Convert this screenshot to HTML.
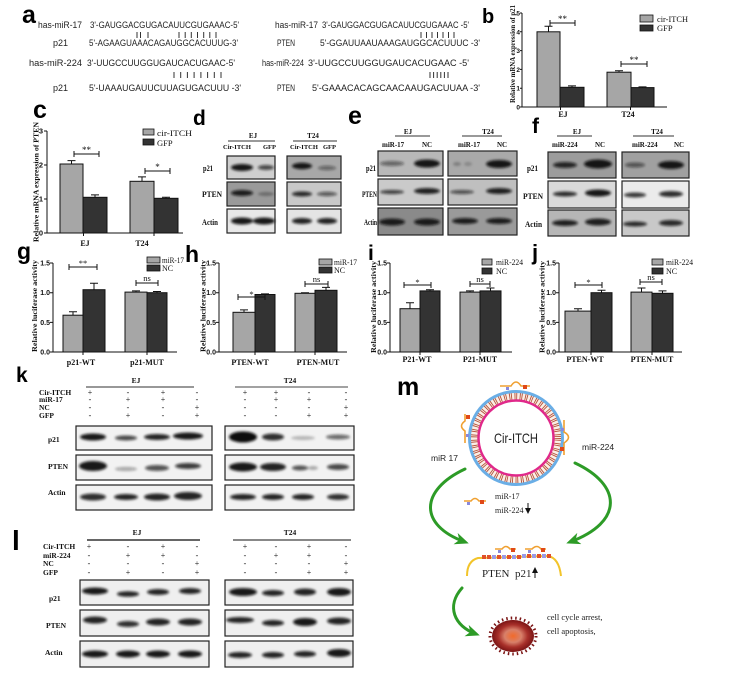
<!DOCTYPE html>
<html><head><meta charset="utf-8"><style>
html,body{margin:0;padding:0;background:#fff}
svg{display:block}
.s{font-family:"Liberation Sans",sans-serif}
.sf{font-family:"Liberation Serif",serif}
.b{font-weight:bold}
.L{font-family:"Liberation Sans",sans-serif;font-weight:bold}
</style></head><body>
<svg width="755" height="675" viewBox="0 0 755 675" xmlns="http://www.w3.org/2000/svg">
<defs>
<filter id="bl" x="-50%" y="-150%" width="200%" height="400%"><feGaussianBlur stdDeviation="1.2"/></filter>
<radialGradient id="cg"><stop offset="0" stop-color="#f26a2a"/><stop offset="0.4" stop-color="#d8806a"/><stop offset="0.7" stop-color="#a8302a"/><stop offset="1" stop-color="#7a1414"/></radialGradient>
<marker id="ga" markerUnits="userSpaceOnUse" markerWidth="16" markerHeight="14" refX="10" refY="6" orient="auto"><path d="M0,0 L14,6 L0,12 L4,6 z" fill="#2d9b27"/></marker>
<marker id="ka" markerUnits="userSpaceOnUse" markerWidth="6" markerHeight="6" refX="3" refY="3" orient="auto"><path d="M0,0 L6,3 L0,6 z" fill="#111"/></marker>
</defs>

<!-- ===== Panel a ===== -->
<text class="L" x="22" y="23" font-size="25">a</text>
<g class="s" font-size="9" fill="#222">
<text x="38" y="28" textLength="44" lengthAdjust="spacingAndGlyphs">has-miR-17</text>
<text x="90" y="28" textLength="149" lengthAdjust="spacingAndGlyphs">3'-GAUGGACGUGACAUUCGUGAAAC-5'</text>
<text x="53" y="46">p21</text>
<text x="89" y="46" textLength="149" lengthAdjust="spacingAndGlyphs">5'-AGAAGUAAACAGAUGGCACUUUG-3'</text>
<text x="29" y="66" textLength="53" lengthAdjust="spacingAndGlyphs">has-miR-224</text>
<text x="87" y="66" textLength="148" lengthAdjust="spacingAndGlyphs">3'-UUGCCUUGGUGAUCACUGAAC-5'</text>
<text x="53" y="91">p21</text>
<text x="89" y="91" textLength="152" lengthAdjust="spacingAndGlyphs">5'-UAAAUGAUUCUUAGUGACUUU -3'</text>
<text x="275" y="28" textLength="43" lengthAdjust="spacingAndGlyphs">has-miR-17</text>
<text x="322" y="28" textLength="147" lengthAdjust="spacingAndGlyphs">3'-GAUGGACGUGACAUUCGUGAAAC -5'</text>
<text x="277" y="46" textLength="18" lengthAdjust="spacingAndGlyphs">PTEN</text>
<text x="320" y="46" textLength="160" lengthAdjust="spacingAndGlyphs">5'-GGAUUAAUAAAGAUGGCACUUUC -3'</text>
<text x="262" y="66" textLength="42" lengthAdjust="spacingAndGlyphs">has-miR-224</text>
<text x="308" y="66" textLength="161" lengthAdjust="spacingAndGlyphs">3'-UUGCCUUGGUGAUCACUGAAC -5'</text>
<text x="277" y="91" textLength="18" lengthAdjust="spacingAndGlyphs">PTEN</text>
<text x="312" y="91" textLength="168" lengthAdjust="spacingAndGlyphs">5'-GAAACACAGCAACAAUGACUUAA -3'</text>
</g>
<g stroke="#333" stroke-width="1">
<path d="M137,32V38M140.5,32V38M148,32V38M179,32V38M185.2,32V38M191.3,32V38M197.5,32V38M203.7,32V38M209.8,32V38M216,32V38"/>
<path d="M174,72V78M180.7,72V78M187.4,72V78M194.1,72V78M200.9,72V78M207.6,72V78M214.3,72V78M221,72V78"/>
<path d="M421,32V38M426.5,32V38M432,32V38M437.5,32V38M443,32V38M448.5,32V38M454,32V38"/>
<path d="M430,72V78M433.6,72V78M437.2,72V78M440.8,72V78M444.4,72V78M448,72V78"/>
</g>

<!-- ===== Panel b ===== -->
<text class="L" x="482" y="23" font-size="20">b</text>
<g fill="none" stroke="#111" stroke-width="1">
<path d="M522,13V107H667M520,13H522M520,31.8H522M520,50.6H522M520,69.4H522M520,88.2H522M520,107H522M560.5,107V110M630.5,107V110"/>
</g>
<g class="L" font-size="6.5" text-anchor="end" fill="#111">
<text x="520" y="15.5">5</text><text x="520" y="34.3">4</text><text x="520" y="53.1">3</text><text x="520" y="71.9">2</text><text x="520" y="90.7">1</text><text x="520" y="109.5">0</text>
</g>
<g stroke="#111" stroke-width="1">
<rect x="537" y="31.8" width="23" height="75.2" fill="#a6a6a6"/>
<rect x="560" y="87.3" width="24" height="19.7" fill="#333"/>
<rect x="607" y="72.2" width="24" height="34.8" fill="#a6a6a6"/>
<rect x="631" y="87.6" width="23" height="19.4" fill="#333"/>
<path fill="none" d="M548.5,31.8V26.2M544.5,26.2H552.5M572,87.3V85.9M568,85.9H576M619,72.2V70.7M615,70.7H623M642.5,87.6V86.9M638.5,86.9H646.5"/>
<path fill="none" d="M550,23H575M550,20V26M575,20V26M621,64H647M621,61V67M647,61V67"/>
</g>
<g class="sf" font-size="9" text-anchor="middle" fill="#111">
<text x="562.5" y="22">**</text><text x="634" y="63">**</text>
</g>
<g class="sf b" font-size="8" text-anchor="middle" fill="#111">
<text x="563" y="117">EJ</text><text x="628" y="117">T24</text>
<text transform="translate(515,54) rotate(-90)" textLength="98" lengthAdjust="spacingAndGlyphs" font-size="7">Relative mRNA expression of p21</text>
</g>
<rect x="640" y="15" width="13" height="7" fill="#a6a6a6" stroke="#111" stroke-width="0.8"/>
<rect x="640" y="25" width="13" height="6" fill="#333" stroke="#111" stroke-width="0.8"/>
<g class="sf" font-size="8.5" fill="#111"><text x="657" y="22" textLength="31" lengthAdjust="spacingAndGlyphs">cir-ITCH</text><text x="657" y="31">GFP</text></g>

<!-- ===== Panel c ===== -->
<text class="L" x="33" y="118" font-size="25">c</text>
<g fill="none" stroke="#111" stroke-width="1">
<path d="M47,131V233H183M44,131H47M44,165H47M44,199H47M44,233H47M83.5,233V236M154,233V236"/>
</g>
<g class="L" font-size="7.5" text-anchor="end" fill="#111">
<text x="43" y="133.5">3</text><text x="43" y="167.5">2</text><text x="43" y="201.5">1</text><text x="43" y="235.5">0</text>
</g>
<g stroke="#111" stroke-width="1">
<rect x="60" y="164" width="23" height="69" fill="#a6a6a6"/>
<rect x="83" y="197.3" width="24" height="35.7" fill="#333"/>
<rect x="130" y="181.3" width="24" height="51.7" fill="#a6a6a6"/>
<rect x="154" y="198.3" width="24" height="34.7" fill="#333"/>
<path fill="none" d="M71.5,164V160.6M67.5,160.6H75.5M95,197.3V194.9M91,194.9H99M142,181.3V176.9M138,176.9H146M166,198.3V197.3M162,197.3H170"/>
<path fill="none" d="M74,154H99M74,151V157M99,151V157M145,171H170M145,168V174M170,168V174"/>
</g>
<g class="sf" font-size="9" text-anchor="middle" fill="#111"><text x="86.5" y="153">**</text><text x="157.5" y="170">*</text></g>
<g class="sf b" font-size="8" text-anchor="middle" fill="#111">
<text x="85" y="246">EJ</text><text x="142" y="246">T24</text>
<text transform="translate(38.5,182) rotate(-90)" textLength="120" lengthAdjust="spacingAndGlyphs" font-size="7.5">Relative mRNA expression of PTEN</text>
</g>
<rect x="143" y="129" width="11" height="6" fill="#a6a6a6" stroke="#111" stroke-width="0.8"/>
<rect x="143" y="139" width="11" height="6" fill="#333" stroke="#111" stroke-width="0.8"/>
<g class="sf" font-size="8.5" fill="#111"><text x="157" y="136" textLength="35" lengthAdjust="spacingAndGlyphs">cir-ITCH</text><text x="157" y="146">GFP</text></g>

<!-- ===== Panel d ===== -->
<text class="L" x="193" y="125" font-size="21">d</text>
<g class="sf b" font-size="7" fill="#111">
<text x="253" y="138" text-anchor="middle">EJ</text>
<text x="313" y="138" text-anchor="middle">T24</text>
<text x="223" y="149" font-size="6.5">Cir-ITCH</text><text x="263" y="149" font-size="6.5">GFP</text>
<text x="290" y="149" font-size="6.5">Cir-ITCH</text><text x="323" y="149" font-size="6.5">GFP</text>
<text x="203" y="171" font-size="8" textLength="10" lengthAdjust="spacingAndGlyphs">p21</text>
<text x="202" y="197" font-size="8" textLength="20" lengthAdjust="spacingAndGlyphs">PTEN</text>
<text x="202" y="225" font-size="8" textLength="16" lengthAdjust="spacingAndGlyphs">Actin</text>
</g>
<path d="M228,141H275M293,141H337" stroke="#333" stroke-width="1"/>
<g stroke="#222" stroke-width="1.2">
<rect x="227" y="156" width="48" height="23" fill="#cfcfcf"/>
<rect x="287" y="156" width="54" height="23" fill="#a8a8a8"/>
<rect x="227" y="182" width="48" height="24" fill="#9a9a9a"/>
<rect x="287" y="182" width="54" height="24" fill="#c8c8c8"/>
<rect x="227" y="209" width="48" height="24" fill="#e8e8e8"/>
<rect x="287" y="209" width="54" height="24" fill="#e4e4e4"/>
</g>
<g fill="#111" filter="url(#bl)">
<ellipse cx="242" cy="167.5" rx="11" ry="3.5" opacity=".95"/>
<ellipse cx="266" cy="167.5" rx="8" ry="2.5" opacity=".7"/>
<ellipse cx="302" cy="166" rx="10" ry="3.2" opacity=".95"/>
<ellipse cx="327" cy="168" rx="9" ry="2.2" opacity=".45"/>
<ellipse cx="242" cy="193" rx="11" ry="3" opacity=".9"/>
<ellipse cx="266" cy="194" rx="8" ry="2" opacity=".3"/>
<ellipse cx="302" cy="194" rx="10" ry="2.5" opacity=".85"/>
<ellipse cx="327" cy="194" rx="10" ry="2.2" opacity=".6"/>
<ellipse cx="242" cy="221" rx="11" ry="3.5" opacity=".95"/>
<ellipse cx="264" cy="221" rx="11" ry="3.5" opacity=".95"/>
<ellipse cx="302" cy="221" rx="10" ry="3" opacity=".9"/>
<ellipse cx="327" cy="221" rx="10" ry="3" opacity=".9"/>
</g>

<!-- ===== Panel e ===== -->
<text class="L" x="348" y="124" font-size="25">e</text>
<g class="sf b" font-size="7" fill="#111">
<text x="408" y="134" text-anchor="middle">EJ</text>
<text x="488" y="134" text-anchor="middle">T24</text>
<text x="382" y="147">miR-17</text><text x="422" y="147">NC</text>
<text x="458" y="147">miR-17</text><text x="497" y="147">NC</text>
<text x="366" y="171" font-size="8" textLength="10" lengthAdjust="spacingAndGlyphs">p21</text>
<text x="362" y="197" font-size="8" textLength="15" lengthAdjust="spacingAndGlyphs">PTEN</text>
<text x="364" y="225" font-size="8" textLength="13" lengthAdjust="spacingAndGlyphs">Actin</text>
</g>
<path d="M395,136H430M462,136H502" stroke="#333" stroke-width="1"/>
<g stroke="#222" stroke-width="1.2">
<rect x="378" y="151" width="65" height="25" fill="#b8b8b8"/>
<rect x="448" y="151" width="69" height="25" fill="#a9a9a9"/>
<rect x="378" y="179" width="65" height="26" fill="#cacaca"/>
<rect x="448" y="179" width="69" height="26" fill="#bfbfbf"/>
<rect x="378" y="208" width="65" height="27" fill="#8a8a8a"/>
<rect x="448" y="208" width="69" height="27" fill="#9a9a9a"/>
</g>
<g fill="#111" filter="url(#bl)">
<ellipse cx="392" cy="163.5" rx="12" ry="2.5" opacity=".5"/>
<ellipse cx="427" cy="163.5" rx="13" ry="4" opacity=".95"/>
<ellipse cx="457" cy="164" rx="4" ry="2" opacity=".25"/>
<ellipse cx="468" cy="164" rx="4" ry="2" opacity=".2"/>
<ellipse cx="499" cy="164" rx="13" ry="4" opacity=".95"/>
<ellipse cx="392" cy="192" rx="12" ry="2" opacity=".75"/>
<ellipse cx="427" cy="191" rx="13" ry="3" opacity=".9"/>
<ellipse cx="462" cy="192" rx="12" ry="2" opacity=".65"/>
<ellipse cx="499" cy="191" rx="13" ry="3" opacity=".9"/>
<ellipse cx="392" cy="222" rx="13" ry="3.5" opacity=".9"/>
<ellipse cx="427" cy="222" rx="13" ry="3.5" opacity=".9"/>
<ellipse cx="465" cy="221" rx="13" ry="3" opacity=".9"/>
<ellipse cx="499" cy="221" rx="13" ry="3" opacity=".9"/>
</g>

<!-- ===== Panel f ===== -->
<text class="L" x="532" y="133" font-size="21">f</text>
<g class="sf b" font-size="7" fill="#111">
<text x="577" y="134" text-anchor="middle">EJ</text>
<text x="657" y="134" text-anchor="middle">T24</text>
<text x="552" y="147">miR-224</text><text x="595" y="147">NC</text>
<text x="632" y="147">miR-224</text><text x="674" y="147">NC</text>
<text x="527" y="171" font-size="8" textLength="11" lengthAdjust="spacingAndGlyphs">p21</text>
<text x="523" y="199" font-size="8" textLength="20" lengthAdjust="spacingAndGlyphs">PTEN</text>
<text x="525" y="227" font-size="8" textLength="17" lengthAdjust="spacingAndGlyphs">Actin</text>
</g>
<path d="M557,136H592M633,136H674" stroke="#333" stroke-width="1"/>
<g stroke="#222" stroke-width="1.2">
<rect x="548" y="152" width="68" height="26" fill="#9c9c9c"/>
<rect x="622" y="152" width="67" height="26" fill="#a0a0a0"/>
<rect x="548" y="181" width="68" height="27" fill="#dadada"/>
<rect x="622" y="181" width="67" height="27" fill="#ebebeb"/>
<rect x="548" y="210" width="68" height="26" fill="#b6b6b6"/>
<rect x="622" y="210" width="67" height="26" fill="#c8c8c8"/>
</g>
<g fill="#111" filter="url(#bl)">
<ellipse cx="565" cy="165" rx="12" ry="3" opacity=".85"/>
<ellipse cx="598" cy="164" rx="14" ry="4.5" opacity=".95"/>
<ellipse cx="635" cy="165" rx="10" ry="2.5" opacity=".55"/>
<ellipse cx="671" cy="165" rx="13" ry="4" opacity=".95"/>
<ellipse cx="565" cy="194" rx="12" ry="2.5" opacity=".85"/>
<ellipse cx="598" cy="193" rx="13" ry="3.5" opacity=".95"/>
<ellipse cx="635" cy="195" rx="11" ry="2.5" opacity=".8"/>
<ellipse cx="671" cy="194" rx="12" ry="3" opacity=".85"/>
<ellipse cx="565" cy="223" rx="13" ry="3" opacity=".9"/>
<ellipse cx="598" cy="222" rx="13" ry="3.5" opacity=".9"/>
<ellipse cx="635" cy="224" rx="12" ry="2.5" opacity=".85"/>
<ellipse cx="671" cy="223" rx="12" ry="3" opacity=".85"/>
</g>

<!-- ===== Luciferase charts g h i j ===== -->
<text class="L" x="17" y="259" font-size="23">g</text>
<text class="L" x="185" y="262" font-size="23">h</text>
<text class="L" x="368" y="260" font-size="21">i</text>
<text class="L" x="532" y="260" font-size="22">j</text>

<g fill="none" stroke="#111" stroke-width="1">
<path d="M53,263V352H177M50,263H53M50,292.7H53M50,322.4H53M50,352H53M83,352V355M147,352V355"/>
<path d="M219,263V352H347M216,263H219M216,292.7H219M216,322.4H219M216,352H219M255,352V355M315,352V355"/>
<path d="M390,263V352H512M387,263H390M387,292.7H390M387,322.4H390M387,352H390M420,352V355M480,352V355"/>
<path d="M559,263V352H682M556,263H559M556,292.7H559M556,322.4H559M556,352H559M591,352V355M652,352V355"/>
</g>
<g class="L" font-size="7" text-anchor="end" fill="#111">
<text x="50" y="265.5">1.5</text><text x="50" y="295.2">1.0</text><text x="50" y="324.9">0.5</text><text x="50" y="354.5">0.0</text>
<text x="216" y="265.5">1.5</text><text x="216" y="295.2">1.0</text><text x="216" y="324.9">0.5</text><text x="216" y="354.5">0.0</text>
<text x="387" y="265.5">1.5</text><text x="387" y="295.2">1.0</text><text x="387" y="324.9">0.5</text><text x="387" y="354.5">0.0</text>
<text x="556" y="265.5">1.5</text><text x="556" y="295.2">1.0</text><text x="556" y="324.9">0.5</text><text x="556" y="354.5">0.0</text>
</g>
<g stroke="#111" stroke-width="1">
<rect x="63" y="315.2" width="20" height="36.8" fill="#a6a6a6"/>
<rect x="83" y="289.7" width="22" height="62.3" fill="#333"/>
<rect x="125" y="292.1" width="22" height="59.9" fill="#a6a6a6"/>
<rect x="147" y="292.7" width="20" height="59.3" fill="#333"/>
<rect x="233" y="312.3" width="22" height="39.7" fill="#a6a6a6"/>
<rect x="255" y="294.5" width="20" height="57.5" fill="#333"/>
<rect x="295" y="293.3" width="20" height="58.7" fill="#a6a6a6"/>
<rect x="315" y="290.3" width="22" height="61.7" fill="#333"/>
<rect x="400" y="308.7" width="20" height="43.3" fill="#a6a6a6"/>
<rect x="420" y="290.9" width="20" height="61.1" fill="#333"/>
<rect x="460" y="292.1" width="20" height="59.9" fill="#a6a6a6"/>
<rect x="480" y="290.9" width="21" height="61.1" fill="#333"/>
<rect x="565" y="311.1" width="26" height="40.9" fill="#a6a6a6"/>
<rect x="591" y="292.7" width="21" height="59.3" fill="#333"/>
<rect x="631" y="292.1" width="21" height="59.9" fill="#a6a6a6"/>
<rect x="652" y="293.3" width="21" height="58.7" fill="#333"/>
<path fill="none" d="M73,315.2V311.7M69,311.7H77M94,289.7V283.2M90,283.2H98M136,292.1V290.9M132,290.9H140M157,292.7V291.5M153,291.5H161"/>
<path fill="none" d="M244,312.3V309.9M240,309.9H248M265,294.5V293.9M261,293.9H269M305,293.3V292.7M301,292.7H309M326,290.3V287.4M322,287.4H330"/>
<path fill="none" d="M410,308.7V302.8M406,302.8H414M430,290.9V289.7M426,289.7H434M470,292.1V290.9M466,290.9H474M490.5,290.9V288M486.5,288H494.5"/>
<path fill="none" d="M578,311.1V308.7M574,308.7H582M601.5,292.7V290.3M597.5,290.3H605.5M641.5,292.1V288M637.5,288H645.5M662.5,293.3V290.9M658.5,290.9H666.5"/>
<path fill="none" d="M69,267H97M69,264V270M97,264V270M136,283H158M136,280V286M158,280V286"/>
<path fill="none" d="M238,297H265M238,294V300M265,294V300M305,284H328M305,281V287M328,281V287"/>
<path fill="none" d="M404,285H431M404,282V288M431,282V288M470,284H490M470,281V287M490,281V287"/>
<path fill="none" d="M575,285H602M575,282V288M602,282V288M640,282H662M640,279V285M662,279V285"/>
</g>
<g class="sf" font-size="8.5" text-anchor="middle" fill="#111">
<text x="83" y="266">**</text><text x="147" y="281">ns</text>
<text x="251.5" y="297">*</text><text x="316.5" y="282">ns</text>
<text x="417.5" y="285">*</text><text x="480" y="282">ns</text>
<text x="588.5" y="285">*</text><text x="651" y="280">ns</text>
</g>
<g class="sf b" font-size="8" text-anchor="middle" fill="#111">
<text x="81" y="365">p21-WT</text><text x="147" y="365">p21-MUT</text>
<text x="250" y="365">PTEN-WT</text><text x="318" y="365">PTEN-MUT</text>
<text x="417" y="362">P21-WT</text><text x="480" y="362">P21-MUT</text>
<text x="585" y="362">PTEN-WT</text><text x="652" y="362">PTEN-MUT</text>
<text transform="translate(37,306) rotate(-90)" font-size="7.5" textLength="92" lengthAdjust="spacingAndGlyphs">Relative luciferase activity</text>
<text transform="translate(205.5,306) rotate(-90)" font-size="7.5" textLength="92" lengthAdjust="spacingAndGlyphs">Relative luciferase activity</text>
<text transform="translate(376,307) rotate(-90)" font-size="7.5" textLength="92" lengthAdjust="spacingAndGlyphs">Relative luciferase activity</text>
<text transform="translate(544.5,307) rotate(-90)" font-size="7.5" textLength="92" lengthAdjust="spacingAndGlyphs">Relative luciferase activity</text>
</g>
<g stroke="#111" stroke-width="0.8">
<rect x="147" y="257" width="13" height="6" fill="#a6a6a6"/><rect x="147" y="265" width="13" height="6" fill="#333"/>
<rect x="319" y="259" width="13" height="6" fill="#a6a6a6"/><rect x="319" y="267" width="13" height="6" fill="#333"/>
<rect x="482" y="259" width="10" height="6" fill="#a6a6a6"/><rect x="482" y="268" width="10" height="6" fill="#333"/>
<rect x="652" y="259" width="11" height="6" fill="#a6a6a6"/><rect x="652" y="268" width="11" height="6" fill="#333"/>
</g>
<g class="sf" font-size="8" fill="#111">
<text x="162" y="263" textLength="22" lengthAdjust="spacingAndGlyphs">miR-17</text><text x="162" y="271">NC</text>
<text x="334" y="265" textLength="23" lengthAdjust="spacingAndGlyphs">miR-17</text><text x="334" y="273">NC</text>
<text x="496" y="265" textLength="27" lengthAdjust="spacingAndGlyphs">miR-224</text><text x="496" y="274">NC</text>
<text x="666" y="265" textLength="27" lengthAdjust="spacingAndGlyphs">miR-224</text><text x="666" y="274">NC</text>
</g>

<!-- ===== Panel k ===== -->
<text class="L" x="16" y="382" font-size="21">k</text>
<g class="sf b" font-size="7.5" fill="#111">
<text x="136" y="383" text-anchor="middle">EJ</text>
<text x="290" y="383" text-anchor="middle">T24</text>
<text x="39" y="395">Cir-ITCH</text><text x="39" y="402">miR-17</text><text x="39" y="410">NC</text><text x="39" y="418">GFP</text>
<text x="48" y="442">p21</text><text x="48" y="469">PTEN</text><text x="48" y="495">Actin</text>
</g>
<path d="M86,387H194" stroke="#777" stroke-width="1.5"/>
<path d="M235,387H348" stroke="#444" stroke-width="1"/>
<g class="sf" font-size="8" text-anchor="middle" fill="#111">
<text x="90" y="395">+</text><text x="128" y="395">-</text><text x="163" y="395">+</text><text x="197" y="395">-</text>
<text x="245" y="395">+</text><text x="276" y="395">+</text><text x="309" y="395">-</text><text x="346" y="395">-</text>
<text x="90" y="402">-</text><text x="128" y="402">+</text><text x="163" y="402">+</text><text x="197" y="402">-</text>
<text x="245" y="402">-</text><text x="276" y="402">+</text><text x="309" y="402">+</text><text x="346" y="402">-</text>
<text x="90" y="410">-</text><text x="128" y="410">-</text><text x="163" y="410">-</text><text x="197" y="410">+</text>
<text x="245" y="410">-</text><text x="276" y="410">-</text><text x="309" y="410">-</text><text x="346" y="410">+</text>
<text x="90" y="418">-</text><text x="128" y="418">+</text><text x="163" y="418">-</text><text x="197" y="418">+</text>
<text x="245" y="418">-</text><text x="276" y="418">-</text><text x="309" y="418">+</text><text x="346" y="418">+</text>
</g>
<g stroke="#222" stroke-width="1.2" fill="#f2f2f2">
<rect x="76" y="426" width="136" height="24"/><rect x="225" y="426" width="129" height="24"/>
<rect x="76" y="455" width="136" height="25"/><rect x="225" y="455" width="129" height="25"/>
<rect x="76" y="485" width="136" height="25"/><rect x="225" y="485" width="129" height="25"/>
</g>
<g fill="#111" filter="url(#bl)">
<ellipse cx="93" cy="437" rx="13" ry="3.5" opacity=".95"/>
<ellipse cx="126" cy="438" rx="11" ry="2.5" opacity=".75"/>
<ellipse cx="157" cy="437" rx="13" ry="3" opacity=".9"/>
<ellipse cx="188" cy="436" rx="15" ry="3.5" opacity=".95"/>
<ellipse cx="243" cy="437" rx="14" ry="5.5" opacity="1"/>
<ellipse cx="273" cy="437" rx="11" ry="3.5" opacity=".85"/>
<ellipse cx="303" cy="438" rx="12" ry="2" opacity=".25"/>
<ellipse cx="338" cy="437" rx="12" ry="2.5" opacity=".6"/>
<ellipse cx="93" cy="466" rx="14" ry="5" opacity=".95"/>
<ellipse cx="126" cy="469" rx="11" ry="2" opacity=".35"/>
<ellipse cx="157" cy="468" rx="12" ry="3" opacity=".7"/>
<ellipse cx="188" cy="466" rx="13" ry="3" opacity=".8"/>
<ellipse cx="243" cy="467" rx="14" ry="4.5" opacity=".95"/>
<ellipse cx="273" cy="467" rx="13" ry="4" opacity=".9"/>
<ellipse cx="300" cy="468" rx="8" ry="2.5" opacity=".7"/>
<ellipse cx="313" cy="468" rx="5" ry="2" opacity=".3"/>
<ellipse cx="338" cy="467" rx="11" ry="3" opacity=".75"/>
<ellipse cx="93" cy="497" rx="13" ry="3.5" opacity=".85"/>
<ellipse cx="126" cy="497" rx="12" ry="3" opacity=".9"/>
<ellipse cx="157" cy="497" rx="13" ry="3.5" opacity=".9"/>
<ellipse cx="188" cy="496" rx="14" ry="4" opacity=".9"/>
<ellipse cx="243" cy="497" rx="13" ry="3" opacity=".9"/>
<ellipse cx="273" cy="497" rx="11" ry="3" opacity=".9"/>
<ellipse cx="303" cy="497" rx="11" ry="3" opacity=".9"/>
<ellipse cx="338" cy="497" rx="11" ry="3" opacity=".85"/>
</g>

<!-- ===== Panel l ===== -->
<text class="L" x="12" y="550" font-size="28">l</text>
<g class="sf b" font-size="7.5" fill="#111">
<text x="137" y="535" text-anchor="middle">EJ</text>
<text x="290" y="535" text-anchor="middle">T24</text>
<text x="43" y="549">Cir-ITCH</text><text x="43" y="558">miR-224</text><text x="43" y="566">NC</text><text x="43" y="575">GFP</text>
<text x="49" y="601">p21</text><text x="46" y="628">PTEN</text><text x="45" y="655">Actin</text>
</g>
<path d="M87,540H200" stroke="#333" stroke-width="1.5"/>
<path d="M233,540H351" stroke="#888" stroke-width="2"/>
<g class="sf" font-size="8" text-anchor="middle" fill="#111">
<text x="89" y="549">+</text><text x="128" y="549">-</text><text x="163" y="549">+</text><text x="197" y="549">-</text>
<text x="245" y="549">+</text><text x="276" y="549">-</text><text x="309" y="549">+</text><text x="346" y="549">-</text>
<text x="89" y="558">-</text><text x="128" y="558">+</text><text x="163" y="558">+</text><text x="197" y="558">-</text>
<text x="245" y="558">-</text><text x="276" y="558">+</text><text x="309" y="558">+</text><text x="346" y="558">-</text>
<text x="89" y="566">-</text><text x="128" y="566">-</text><text x="163" y="566">-</text><text x="197" y="566">+</text>
<text x="245" y="566">-</text><text x="276" y="566">-</text><text x="309" y="566">-</text><text x="346" y="566">+</text>
<text x="89" y="575">-</text><text x="128" y="575">+</text><text x="163" y="575">-</text><text x="197" y="575">+</text>
<text x="245" y="575">-</text><text x="276" y="575">-</text><text x="309" y="575">+</text><text x="346" y="575">+</text>
</g>
<g stroke="#222" stroke-width="1.2" fill="#efefef">
<rect x="80" y="580" width="129" height="25"/><rect x="225" y="580" width="128" height="25"/>
<rect x="80" y="610" width="129" height="26"/><rect x="225" y="610" width="128" height="26"/>
<rect x="80" y="641" width="129" height="26"/><rect x="225" y="641" width="128" height="26"/>
</g>
<g fill="#111" filter="url(#bl)">
<ellipse cx="95" cy="591" rx="13" ry="3.5" opacity=".95"/>
<ellipse cx="128" cy="594" rx="11" ry="2.8" opacity=".9"/>
<ellipse cx="158" cy="592" rx="11" ry="3" opacity=".9"/>
<ellipse cx="190" cy="591" rx="11" ry="3" opacity=".9"/>
<ellipse cx="243" cy="592" rx="14" ry="4" opacity=".95"/>
<ellipse cx="273" cy="593" rx="11" ry="3" opacity=".9"/>
<ellipse cx="305" cy="592" rx="11" ry="3.5" opacity=".9"/>
<ellipse cx="339" cy="592" rx="12" ry="4" opacity=".95"/>
<ellipse cx="95" cy="620" rx="12" ry="3.5" opacity=".9"/>
<ellipse cx="128" cy="624" rx="11" ry="3" opacity=".85"/>
<ellipse cx="158" cy="622" rx="12" ry="3.5" opacity=".9"/>
<ellipse cx="190" cy="622" rx="12" ry="3.5" opacity=".9"/>
<ellipse cx="240" cy="620" rx="14" ry="3" opacity=".9"/>
<ellipse cx="273" cy="623" rx="11" ry="3" opacity=".9"/>
<ellipse cx="305" cy="622" rx="12" ry="4" opacity=".95"/>
<ellipse cx="339" cy="621" rx="12" ry="3.5" opacity=".9"/>
<ellipse cx="95" cy="654" rx="13" ry="3.5" opacity=".95"/>
<ellipse cx="128" cy="654" rx="12" ry="3.5" opacity=".95"/>
<ellipse cx="158" cy="654" rx="12" ry="3.5" opacity=".95"/>
<ellipse cx="190" cy="654" rx="12" ry="3.5" opacity=".95"/>
<ellipse cx="240" cy="655" rx="12" ry="3" opacity=".9"/>
<ellipse cx="273" cy="655" rx="11" ry="3" opacity=".9"/>
<ellipse cx="305" cy="654" rx="11" ry="3" opacity=".9"/>
<ellipse cx="339" cy="653" rx="12" ry="4" opacity=".95"/>
</g>

<!-- ===== Panel m ===== -->
<text class="L" x="397" y="395" font-size="25">m</text>
<circle cx="516" cy="438" r="46" fill="#fff"/>
<circle cx="516" cy="438" r="42" fill="none" stroke="#fbeee6" stroke-width="8"/>
<circle cx="516" cy="438" r="42" fill="none" stroke="#b4523a" stroke-width="7" stroke-dasharray="0.9 0.9 0.9 2.6"/>
<circle cx="516" cy="438" r="46.5" fill="none" stroke="#6aaee6" stroke-width="3"/>
<circle cx="516" cy="438" r="37.5" fill="none" stroke="#e0288a" stroke-width="2.5"/>
<text class="s" x="516" y="443" font-size="14" text-anchor="middle" textLength="44" lengthAdjust="spacingAndGlyphs" fill="#222">Cir-ITCH</text>
<g fill="none" stroke="#f0a030" stroke-width="1.6">
<path d="M500,386H511Q516,378 521,386H530"/>
<path d="M465,414V421Q458,426 465,431V443"/>
<path d="M564,420V432Q573,437 564,443V455"/>
<path d="M464,501H471Q475,496 479,501H486"/>
<path d="M495,549H502Q506,544 510,549H516"/>
<path d="M525,549H532Q537,544 541,549H546"/>
</g>
<g>
<rect x="506" y="387" width="3" height="3" fill="#8888dd"/><rect x="523" y="385" width="4" height="4" fill="#e04818"/>
<rect x="466" y="415" width="4" height="4" fill="#e04818"/><rect x="466" y="434" width="3" height="3" fill="#8888dd"/>
<rect x="561" y="428" width="3" height="3" fill="#8888dd"/><rect x="560" y="447" width="4" height="4" fill="#e04818"/>
<rect x="467" y="502" width="3" height="3" fill="#8888dd"/><rect x="480" y="500" width="4" height="4" fill="#e04818"/>
<rect x="498" y="550" width="3" height="3" fill="#8888dd"/><rect x="511" y="548" width="4" height="4" fill="#e04818"/>
<rect x="528" y="550" width="3" height="3" fill="#8888dd"/><rect x="541" y="548" width="4" height="4" fill="#e04818"/>
</g>
<text class="s" x="431" y="461" font-size="8.5" fill="#222">miR 17</text>
<text class="s" x="582" y="450" font-size="8.5" fill="#222">miR-224</text>
<g fill="none" stroke="#2d9b27" stroke-width="3" stroke-linecap="round">
<path d="M465,469C420,490 418,525 465,542" marker-end="url(#ga)"/>
<path d="M575,463C622,485 624,522 570,542" marker-end="url(#ga)"/>
<path d="M462,588C446,606 454,626 476,634" marker-end="url(#ga)"/>
</g>
<g class="sf" font-size="8" fill="#222"><text x="495" y="499">miR-17</text><text x="495" y="513">miR-224</text></g>
<path d="M528,503V511" stroke="#111" stroke-width="1" marker-end="url(#ka)"/>
<path d="M467,576Q467,561 478,558L548,556Q559,558 561,576" fill="none" stroke="#f2c42a" stroke-width="2"/>
<g>
<rect x="482" y="555" width="4" height="4" fill="#e0502a"/><rect x="487" y="555" width="4" height="4" fill="#e0502a"/>
<rect x="492" y="555" width="4" height="4" fill="#9a9ae8"/><rect x="497" y="555" width="4" height="4" fill="#e0502a"/>
<rect x="502" y="555" width="4" height="4" fill="#9a9ae8"/><rect x="507" y="555" width="4" height="4" fill="#e0502a"/>
<rect x="512" y="555" width="4" height="4" fill="#9a9ae8"/><rect x="517" y="555" width="4" height="4" fill="#e0502a"/>
<rect x="522" y="554" width="4" height="4" fill="#9a9ae8"/><rect x="527" y="554" width="4" height="4" fill="#e0502a"/>
<rect x="532" y="554" width="4" height="4" fill="#9a9ae8"/><rect x="537" y="554" width="4" height="4" fill="#e0502a"/>
<rect x="542" y="554" width="4" height="4" fill="#9a9ae8"/><rect x="547" y="554" width="4" height="4" fill="#e0502a"/>
</g>
<g class="sf" font-size="11" fill="#222"><text x="482" y="577">PTEN</text><text x="515" y="577">p21</text></g>
<path d="M535,578V570" stroke="#111" stroke-width="1" marker-end="url(#ka)"/>
<ellipse cx="513" cy="636" rx="23" ry="18" fill="none" stroke="#7a1414" stroke-width="3" stroke-dasharray="1.5 3"/>
<ellipse cx="513" cy="636" rx="21" ry="16" fill="url(#cg)"/>
<g class="sf" font-size="8.5" fill="#222"><text x="547" y="620">cell cycle arrest,</text><text x="547" y="634">cell apoptosis,</text></g>
</svg>
</body></html>
